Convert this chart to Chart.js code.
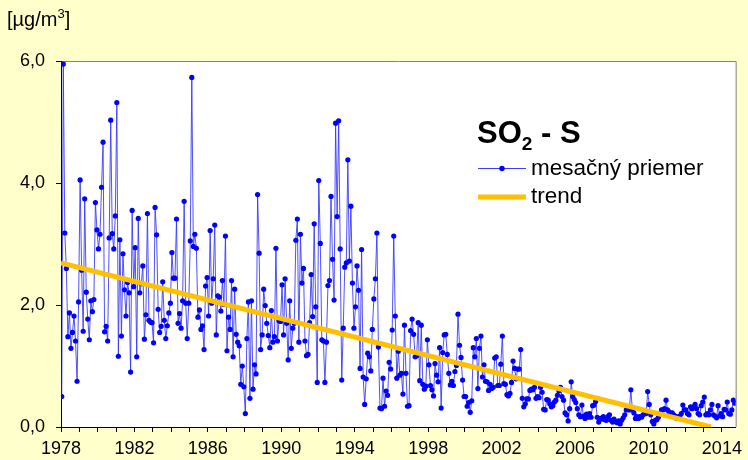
<!DOCTYPE html>
<html>
<head>
<meta charset="utf-8">
<script src="https://cdn.jsdelivr.net/npm/chart.js@4.4.1/dist/chart.umd.min.js"></script>
<style>
  html, body { margin: 0; padding: 0; background: #ffffcc; }
  #wrap { width: 748px; height: 460px; position: relative; }
</style>
</head>
<body>
<div id="wrap"><canvas id="so2Chart" width="748" height="460"></canvas></div>
<script>
// SO2 - S, mesačné priemery [µg/m3], jan 1978 ...
const startYear = 1978;
const monthly = [
    0.50, 5.95, 3.18, 2.60, 1.48, 1.87, 1.29, 1.55, 1.82, 1.41, 0.75, 2.05, // 1978
    4.05, 2.57, 1.57, 3.74, 2.21, 1.77, 1.43, 2.07, 1.89, 2.09, 3.68, 3.23, // 1979
    2.92, 3.16, 3.93, 4.67, 1.56, 1.65, 1.41, 3.10, 5.03, 3.17, 2.92, 3.46, // 1980
    5.32, 1.16, 3.07, 1.49, 2.84, 2.25, 1.82, 2.37, 2.20, 0.90, 3.55, 2.30, // 1981
    2.94, 1.15, 3.42, 2.20, 2.35, 2.64, 1.44, 1.84, 3.50, 1.75, 1.72, 1.71, // 1982
    1.38, 3.60, 3.15, 1.93, 1.55, 1.65, 2.38, 1.75, 1.45, 1.66, 1.87, 2.03, // 1983
    2.86, 2.44, 2.44, 3.41, 1.70, 1.86, 1.62, 2.07, 3.70, 2.03, 1.45, 2.03, // 1984
    3.05, 5.73, 2.96, 3.16, 2.93, 1.80, 1.92, 1.60, 1.66, 1.27, 2.31, 2.45, // 1985
    1.82, 3.22, 2.03, 2.43, 3.31, 1.51, 2.15, 2.13, 1.90, 2.40, 2.01, 3.13, // 1986
    1.25, 1.80, 1.60, 2.40, 1.15, 2.26, 1.52, 1.39, 1.33, 0.70, 1.00, 0.66, // 1987
    0.22, 1.45, 2.05, 0.47, 2.07, 0.62, 1.02, 0.87, 3.81, 2.85, 1.27, 1.51, // 1988
    2.26, 1.99, 1.70, 1.50, 1.30, 1.91, 1.39, 1.48, 2.93, 1.41, 1.74, 1.73, // 1989
    2.33, 1.51, 2.43, 1.70, 1.10, 2.07, 1.29, 1.62, 1.70, 3.06, 3.41, 1.39, // 1990
    3.16, 2.36, 2.60, 1.41, 1.17, 1.19, 1.71, 2.50, 1.81, 3.33, 1.97, 0.73, // 1991
    4.04, 3.01, 1.43, 1.41, 0.73, 1.39, 2.32, 2.40, 3.78, 2.75, 2.08, 4.98, // 1992
    3.45, 5.02, 2.92, 0.77, 1.62, 2.62, 2.69, 4.38, 2.72, 3.62, 2.36, 1.62, // 1993
    1.97, 2.64, 2.24, 0.96, 2.91, 0.82, 0.37, 0.79, 1.21, 1.15, 0.92, 1.60, // 1994
    2.10, 2.43, 3.18, 1.31, 0.31, 0.30, 0.80, 0.34, 0.59, 0.52, 1.06, 0.95, // 1995
    1.59, 3.13, 1.82, 0.80, 1.24, 0.85, 0.88, 0.54, 1.67, 0.88, 0.34, 0.35, // 1996
    1.58, 1.77, 1.52, 1.15, 1.17, 1.71, 0.76, 1.67, 0.70, 0.62, 0.67, 1.43, // 1997
    1.02, 0.68, 0.61, 0.51, 1.04, 0.85, 0.74, 1.30, 0.31, 1.22, 1.51, 1.52, // 1998
    1.19, 0.88, 0.69, 0.75, 0.68, 0.91, 1.01, 1.85, 1.34, 1.14, 0.77, 0.50, // 1999
    0.50, 0.34, 0.40, 0.24, 0.43, 1.30, 1.15, 1.45, 0.63, 1.29, 1.49, 0.82, // 2000
    1.02, 0.75, 0.74, 0.60, 0.70, 0.63, 0.65, 1.13, 1.15, 0.68, 0.68, 1.03, // 2001
    1.49, 0.71, 0.70, 0.53, 0.51, 0.55, 0.73, 1.08, 0.96, 0.79, 0.95, 0.95, // 2002
    1.27, 0.47, 0.33, 0.38, 0.46, 0.46, 0.60, 0.62, 0.61, 0.65, 0.47, 0.50, // 2003
    0.48, 0.65, 0.57, 0.29, 0.28, 0.45, 0.44, 0.38, 0.33, 0.35, 0.41, 0.44, // 2004
    0.52, 0.59, 0.65, 0.50, 0.44, 0.23, 0.20, 0.10, 0.30, 0.74, 0.50, 0.45, // 2005
    0.40, 0.30, 0.20, 0.17, 0.36, 0.18, 0.14, 0.21, 0.16, 0.22, 0.16, 0.35, // 2006
    0.36, 0.42, 0.16, 0.08, 0.14, 0.13, 0.17, 0.12, 0.11, 0.17, 0.20, 0.11, // 2007
    0.08, 0.13, 0.09, 0.07, 0.10, 0.05, 0.11, 0.15, 0.20, 0.28, 0.29, 0.28, // 2008
    0.61, 0.28, 0.23, 0.14, 0.17, 0.14, 0.17, 0.16, 0.20, 0.23, 0.22, 0.58, // 2009
    0.37, 0.20, 0.09, 0.05, 0.11, 0.12, 0.16, 0.22, 0.28, 0.28, 0.30, 0.44, // 2010
    0.28, 0.25, 0.18, 0.23, 0.20, 0.18, 0.14, 0.17, 0.16, 0.22, 0.36, 0.28, // 2011
    0.28, 0.22, 0.20, 0.33, 0.30, 0.33, 0.37, 0.30, 0.22, 0.20, 0.35, 0.41, // 2012
    0.49, 0.20, 0.22, 0.20, 0.28, 0.37, 0.20, 0.18, 0.15, 0.35, 0.18, 0.22, // 2013
    0.17, 0.29, 0.28, 0.41, 0.22, 0.21, 0.28, 0.44, 0.39                    // 2014
];

// lineárny trend (začiatok a koniec)
const trendYears = [1978, 2013.4];
const trendValues = [2.69, 0.0];

const yTicks = [0, 2, 4, 6];
const xLabelYears = [1978, 1982, 1986, 1990, 1994, 1998, 2002, 2006, 2010, 2014];

const FONT = '"Liberation Sans", Arial, sans-serif';

const bgPlugin = {
    id: 'bg',
    beforeDraw(chart) {
        const { ctx, chartArea: a } = chart;
        ctx.save();
        ctx.fillStyle = '#ffffcc';
        ctx.fillRect(0, 0, chart.width, chart.height);
        ctx.fillStyle = '#ffffff';
        ctx.fillRect(a.left, a.top, a.right - a.left, a.bottom - a.top);
        ctx.strokeStyle = '#808080';
        ctx.lineWidth = 1;
        ctx.beginPath();
        ctx.moveTo(a.left, a.top + 0.5);
        ctx.lineTo(a.right + 0.5, a.top + 0.5);
        ctx.lineTo(a.right + 0.5, a.bottom);
        ctx.stroke();
        ctx.restore();
    }
};

const textPlugin = {
    id: 'texts',
    afterDraw(chart) {
        const ctx = chart.ctx;
        ctx.save();
        ctx.fillStyle = '#000';
        ctx.textBaseline = 'alphabetic';

        // jednotka
        ctx.font = '20px ' + FONT;
        ctx.fillText('[µg/m', 7, 26);
        let w = ctx.measureText('[µg/m').width;
        ctx.font = '13px ' + FONT;
        ctx.fillText('3', 7 + w, 18);
        let w3 = ctx.measureText('3').width;
        ctx.font = '20px ' + FONT;
        ctx.fillText(']', 7 + w + w3, 26);

        // titulok legendy
        ctx.font = 'bold 31px ' + FONT;
        ctx.fillText('SO', 477, 143);
        w = ctx.measureText('SO').width;
        ctx.font = 'bold 19px ' + FONT;
        ctx.fillText('2', 477 + w, 150);
        w3 = ctx.measureText('2').width;
        ctx.font = 'bold 31px ' + FONT;
        ctx.fillText(' - S', 477 + w + w3, 143);

        // položky legendy
        ctx.strokeStyle = '#3c3cff';
        ctx.lineWidth = 1;
        ctx.beginPath();
        ctx.moveTo(478, 168.5);
        ctx.lineTo(526, 168.5);
        ctx.stroke();
        ctx.fillStyle = '#0000ff';
        ctx.beginPath();
        ctx.arc(502, 168.5, 2.7, 0, Math.PI * 2);
        ctx.fill();

        ctx.strokeStyle = '#ffc000';
        ctx.lineWidth = 5;
        ctx.beginPath();
        ctx.moveTo(478, 197);
        ctx.lineTo(526, 197);
        ctx.stroke();

        ctx.fillStyle = '#000';
        ctx.font = '22.5px ' + FONT;
        ctx.textBaseline = 'middle';
        ctx.fillText('mesačný priemer', 531, 169);
        ctx.fillText('trend', 531, 197);
        ctx.restore();
    }
};

// body v strede mesiaca
const monthlyPoints = monthly.map((v, i) => ({ x: startYear + (i + 0.5) / 12, y: v }));
const trendPoints = trendYears.map((yr, i) => ({ x: yr, y: trendValues[i] }));
const xMax = startYear + monthly.length / 12;

new Chart(document.getElementById('so2Chart'), {
    type: 'line',
    data: {
        datasets: [{
            label: 'trend',
            data: trendPoints,
            borderColor: '#ffc000',
            borderWidth: 5,
            pointRadius: 0,
            fill: false,
            order: 0
        }, {
            label: 'mesačný priemer',
            data: monthlyPoints,
            borderColor: 'rgba(50, 50, 255, 0.85)',
            borderWidth: 1,
            pointRadius: 2.6,
            pointBorderWidth: 0,
            pointBackgroundColor: '#0000ff',
            fill: false,
            tension: 0,
            order: 1
        }]
    },
    options: {
        responsive: false,
        animation: false,
        layout: { padding: { top: 61, right: 5, bottom: 0, left: 0 } },
        plugins: {
            legend: { display: false },
            tooltip: { enabled: false }
        },
        scales: {
            x: {
                type: 'linear',
                min: startYear,
                max: xMax,
                afterFit: (s) => { s.height = 33; },
                afterBuildTicks: (s) => {
                    const t = [];
                    for (let y = startYear; y <= xMax; y++) t.push({ value: y });
                    s.ticks = t;
                },
                ticks: {
                    autoSkip: false,
                    maxRotation: 0,
                    padding: 6,
                    color: '#000',
                    font: { family: FONT, size: 18 },
                    callback: (v) => xLabelYears.includes(v) ? String(v) : ''
                },
                grid: { drawOnChartArea: false, tickLength: 5, color: '#000' },
                border: { color: '#000', width: 1 }
            },
            y: {
                min: 0,
                max: 6,
                afterFit: (s) => { s.width = 61; },
                afterBuildTicks: (s) => { s.ticks = yTicks.map(v => ({ value: v })); },
                ticks: {
                    padding: 11,
                    color: '#000',
                    font: { family: FONT, size: 18 },
                    callback: (v) => v.toFixed(1).replace('.', ',')
                },
                grid: { drawOnChartArea: false, tickLength: 5, color: '#000' },
                border: { color: '#000', width: 1 }
            }
        }
    },
    plugins: [bgPlugin, textPlugin]
});
</script>
</body>
</html>
